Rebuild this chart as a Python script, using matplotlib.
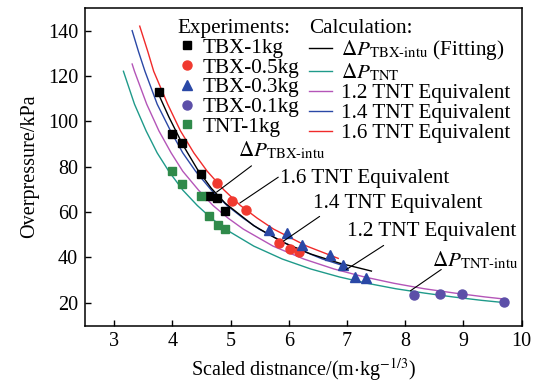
import matplotlib
matplotlib.use("Agg")
import matplotlib.pyplot as plt
from matplotlib.lines import Line2D

plt.rcParams['font.family'] = ['Liberation Serif', 'DejaVu Serif']
plt.rcParams['mathtext.fontset'] = 'stix'

# ---------------- data ----------------
# Experiments
tbx1_x = [3.77, 3.99, 4.17, 4.50, 4.63, 4.77, 4.91]
tbx1_y = [113.0, 94.3, 90.4, 76.8, 67.2, 66.2, 60.3]
tbx05_x = [4.77, 5.03, 5.27, 5.84, 6.02, 6.17]
tbx05_y = [72.9, 64.9, 61.1, 46.5, 43.9, 42.2]
tbx03_x = [5.66, 5.97, 6.23, 6.71, 6.93, 7.13, 7.33]
tbx03_y = [52.2, 51.0, 45.6, 41.3, 36.6, 31.6, 30.9]
tbx01_x = [8.16, 8.59, 8.98, 9.69]
tbx01_y = [23.5, 23.9, 24.0, 20.5]
tnt1_x = [3.99, 4.17, 4.50, 4.63, 4.79, 4.91]
tnt1_y = [78.0, 72.4, 67.2, 58.1, 54.2, 52.6]

# Calculation curves
fit_x = [3.79, 3.94, 4.18, 4.43, 4.67, 4.91, 5.40, 5.89, 6.38, 6.87, 7.42]
fit_y = [110.5, 102.0, 89.7, 78.9, 70.5, 63.9, 54.0, 46.8, 41.5, 37.5, 34.0]
tnt_x = [3.16, 3.35, 3.55, 3.74, 3.94, 4.18, 4.43, 4.67, 4.91, 5.40, 5.89, 6.38,
         6.87, 7.35, 7.84, 8.33, 8.82, 9.31, 9.70]
tnt_y = [122.1, 107.6, 95.8, 86.1, 78.0, 69.7, 62.9, 57.3, 52.5, 45.0, 39.3, 34.9,
         31.4, 28.6, 26.2, 24.3, 22.6, 21.1, 20.1]
eq12_x = [3.31, 3.35, 3.56, 3.77, 3.98, 4.18, 4.45, 4.70, 4.96, 5.22, 5.73, 6.26,
          6.78, 7.30, 7.81, 8.33, 8.85, 9.37, 9.69]
eq12_y = [125.3, 122.1, 107.6, 95.8, 86.1, 78.0, 69.7, 62.9, 57.3, 52.5, 45.0, 39.3,
          34.9, 31.4, 28.6, 26.2, 24.3, 22.6, 21.7]
eq14_x = [3.31, 3.42, 3.53, 3.74, 3.97, 4.18, 4.40, 4.67, 4.94, 5.22, 5.49, 6.04,
          6.58, 6.96]
eq14_y = [140.0, 130.7, 122.1, 107.6, 95.8, 86.1, 78.0, 69.7, 62.9, 57.3, 52.5,
          45.0, 39.3, 36.2]
eq16_x = [3.44, 3.58, 3.68, 3.92, 4.14, 4.37, 4.60, 4.89, 5.17, 5.46, 5.74, 6.31, 6.85]
eq16_y = [142.0, 130.7, 122.1, 107.6, 95.8, 86.1, 78.0, 69.7, 62.9, 57.3, 52.5,
          45.0, 39.6]

x_ticks = [3, 4, 5, 6, 7, 8, 9, 10]
y_ticks = [20, 40, 60, 80, 100, 120, 140]

# ---------------- styles ----------------
C_TEAL = '#1f9a8a'
C_PURPLE = '#b455b8'
C_BLUE = '#2a48a6'
C_RED = '#f02a2a'
FS = 14.5
FL = 15.2

fig = plt.figure(figsize=(5.36, 3.85), dpi=100)
ax = fig.add_axes([85/536, 59.5/385, 436.6/536, 317.5/385])

lw = 1.0
ax.plot(tnt_x, tnt_y, color=C_TEAL, lw=lw, zorder=2)
ax.plot(eq12_x, eq12_y, color=C_PURPLE, lw=lw, zorder=2)
ax.plot(eq14_x, eq14_y, color=C_BLUE, lw=lw, zorder=2)
ax.plot(eq16_x, eq16_y, color=C_RED, lw=lw, zorder=2)
ax.plot(fit_x, fit_y, color='black', lw=lw, zorder=2)

ax.plot(tbx1_x, tbx1_y, 's', color='black', ms=6, zorder=3, ls='none')
ax.plot(tbx05_x, tbx05_y, 'o', color='#f03a30', ms=6.5, zorder=3, ls='none')
ax.plot(tbx03_x, tbx03_y, '^', color='#2a48a6', ms=7, zorder=3, ls='none')
ax.plot(tbx01_x, tbx01_y, 'o', color='#5c4fa8', ms=6.5, zorder=3, ls='none')
ax.plot(tnt1_x, tnt1_y, 's', color='#2f8a4a', ms=6, zorder=3, ls='none')

ax.set_xlim(2.5, 10)
ax.set_ylim(10, 150)
ax.set_xticks(x_ticks)
ax.set_yticks(y_ticks)
ax.tick_params(direction='in', length=4, width=1.0, labelsize=FS, pad=5,
               top=False, right=False)
for s in ax.spines.values():
    s.set_linewidth(1.1)

ax.set_xlabel(r'Scaled distnance/(m$\cdot$kg$^{-1/3}$)', fontsize=FS, labelpad=3)
ax.set_ylabel('Overpressure/kPa', fontsize=FS, labelpad=6)

# annotations
def note(text, tx, ty, x0, y0, x1, y1):
    ax.text(tx, ty, text, fontsize=FL, ha='left', va='baseline', zorder=4)
    ax.annotate('', xy=(x1, y1), xytext=(x0, y0),
                arrowprops=dict(arrowstyle='-', color='black', lw=0.8,
                                shrinkA=0, shrinkB=0))

note(r'$\Delta P_{\mathrm{TBX\text{-}intu}}$', 5.13, 84.4, 5.36, 80.4, 4.76, 68.8)
note('1.6 TNT Equivalent', 5.85, 72.9, 5.82, 75.4, 5.16, 64.0)
note('1.4 TNT Equivalent', 6.42, 61.8, 6.53, 58.1, 5.91, 47.2)
note('1.2 TNT Equivalent', 7.00, 49.5, 7.63, 45.3, 6.99, 34.7)
note(r'$\Delta P_{\mathrm{TNT\text{-}intu}}$', 8.46, 35.9, 8.62, 34.7, 8.09, 25.3)

# legends
exp_handles = [
    Line2D([], [], marker='s', color='black', ls='none', ms=6),
    Line2D([], [], marker='o', color='#f03a30', ls='none', ms=6.5),
    Line2D([], [], marker='^', color='#2a48a6', ls='none', ms=7),
    Line2D([], [], marker='o', color='#5c4fa8', ls='none', ms=6.5),
    Line2D([], [], marker='s', color='#2f8a4a', ls='none', ms=6),
]
exp_labels = ['TBX-1kg', 'TBX-0.5kg', 'TBX-0.3kg', 'TBX-0.1kg', 'TNT-1kg']
leg1 = ax.legend(exp_handles, exp_labels, title='Experiments:', loc='upper left',
                 bbox_to_anchor=(177/536, 1 - 19/385), bbox_transform=fig.transFigure,
                 frameon=False, fontsize=FL, title_fontsize=FL, alignment='left',
                 handlelength=0.9, handletextpad=0.3, labelspacing=0.0,
                 borderpad=0, borderaxespad=0)
ax.add_artist(leg1)

calc_handles = [
    Line2D([], [], color='black', lw=lw),
    Line2D([], [], color=C_TEAL, lw=lw),
    Line2D([], [], color=C_PURPLE, lw=lw),
    Line2D([], [], color=C_BLUE, lw=lw),
    Line2D([], [], color=C_RED, lw=lw),
]
calc_labels = [r'$\Delta P_{\mathrm{TBX\text{-}intu}}$ (Fitting)',
               r'$\Delta P_{\mathrm{TNT}}$',
               '1.2 TNT Equivalent', '1.4 TNT Equivalent', '1.6 TNT Equivalent']
leg2 = ax.legend(calc_handles, calc_labels, title='Calculation:', loc='upper left',
                 bbox_to_anchor=(309/536, 1 - 19/385), bbox_transform=fig.transFigure,
                 frameon=False, fontsize=FL, title_fontsize=FL, alignment='left',
                 handlelength=1.1, handletextpad=0.4, labelspacing=0.0,
                 borderpad=0, borderaxespad=0)

fig.savefig('out.png', dpi=100)
